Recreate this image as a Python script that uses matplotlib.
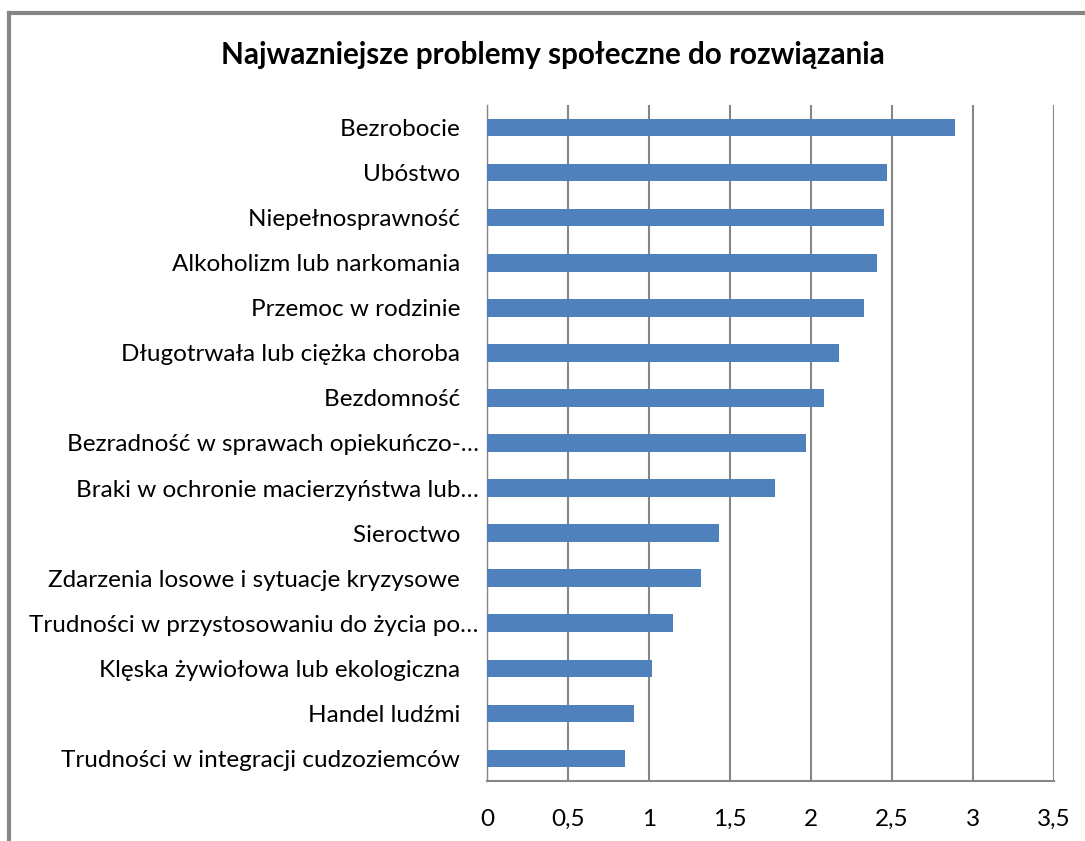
import matplotlib
matplotlib.use("Agg")
import matplotlib.pyplot as plt
from matplotlib.lines import Line2D

categories = [
    "Bezrobocie",
    "Ubóstwo",
    "Niepełnosprawność",
    "Alkoholizm lub narkomania",
    "Przemoc w rodzinie",
    "Długotrwała lub ciężka choroba",
    "Bezdomność",
    "Bezradność w sprawach opiekuńczo-…",
    "Braki w ochronie macierzyństwa lub…",
    "Sieroctwo",
    "Zdarzenia losowe i sytuacje kryzysowe",
    "Trudności w przystosowaniu do życia po…",
    "Klęska żywiołowa lub ekologiczna",
    "Handel ludźmi",
    "Trudności w integracji cudzoziemców",
]
values = [2.89, 2.47, 2.45, 2.41, 2.33, 2.17, 2.08, 1.97, 1.78, 1.43, 1.32, 1.15, 1.02, 0.91, 0.85]
xticks = [0, 0.5, 1, 1.5, 2, 2.5, 3, 3.5]
xtick_labels = ["0", "0,5", "1", "1,5", "2", "2,5", "3", "3,5"]
title = "Najwazniejsze problemy społeczne do rozwiązania"

plt.rcParams['font.family'] = ['Lato', 'DejaVu Sans']

fig = plt.figure(figsize=(10.85, 8.41), dpi=100)
ax = fig.add_axes([487/1085, 1-781/841, (1054-487)/1085, (781-105)/841])

ypos = list(range(len(categories)))
labels = [c if c.endswith("…") else c + "   " for c in categories]
ax.barh(ypos, values, height=0.39, color="#4F81BD", zorder=3)
ax.set_ylim(len(categories) - 0.5, -0.5)
ax.set_xlim(0, 3.5)
ax.set_yticks(ypos)
ax.set_yticklabels(labels, fontsize=17.5)
ax.set_xticks(xticks)
ax.set_xticklabels(xtick_labels, fontsize=17.5)
ax.tick_params(axis='both', length=0)
ax.tick_params(axis='y', pad=6)
ax.tick_params(axis='x', pad=20)
ax.grid(axis='x', color="#868686", linewidth=1.5, zorder=0)
for s in ['top', 'right']:
    ax.spines[s].set_visible(False)
ax.spines['left'].set_color("#868686")
ax.spines['left'].set_linewidth(1.0)
ax.spines['bottom'].set_color("#868686")
ax.spines['bottom'].set_linewidth(1.5)

fig.text(553/1085, 1-55/841, title, ha='center', va='center', fontsize=21.3, fontweight='bold')

# outer chart frame (top and left edges visible)
fig.add_artist(Line2D([9/1085, 9/1085], [0, 1-13/841], transform=fig.transFigure, color="#868686", linewidth=3))
fig.add_artist(Line2D([9/1085, 1], [1-13/841, 1-13/841], transform=fig.transFigure, color="#868686", linewidth=3))

fig.savefig("out.png", dpi=100)
